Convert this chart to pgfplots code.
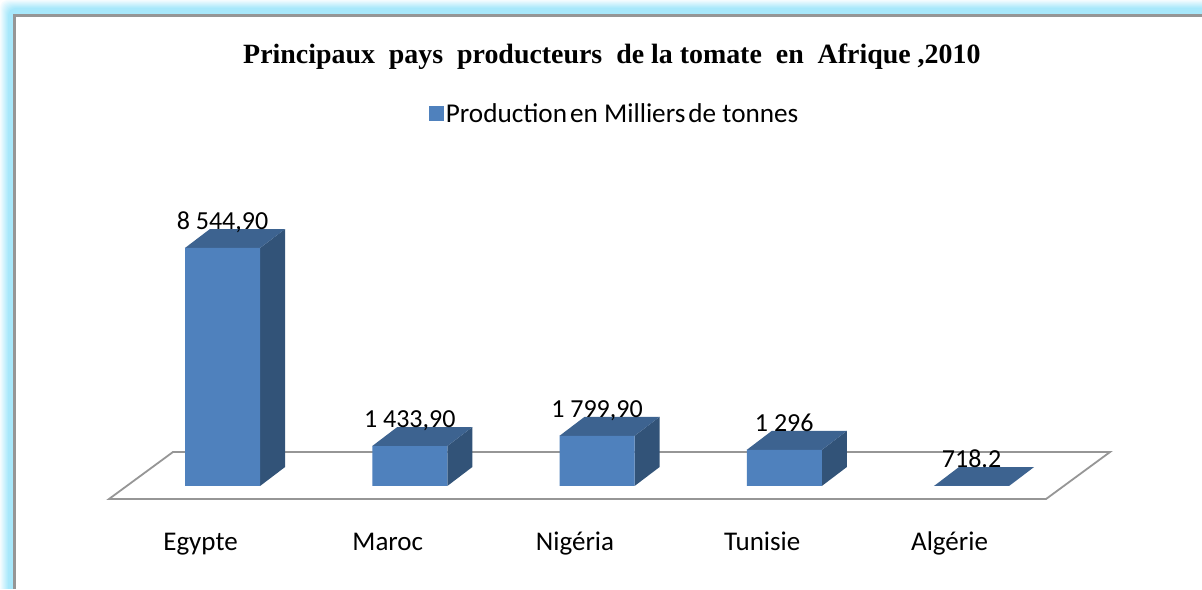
\documentclass[border=0pt]{standalone}
\usepackage{pgfplots}
\pgfplotsset{compat=1.18}
\usepackage{fontspec}
\setmainfont{Carlito}
\newfontfamily\titlefont{Liberation Serif}[BoldFont={Liberation Serif Bold}]
\definecolor{front}{HTML}{4F81BD}
\definecolor{topf}{HTML}{3D6390}
\definecolor{sidef}{HTML}{325378}
\definecolor{glow}{HTML}{A8E8FB}
\definecolor{floorline}{HTML}{969696}
\newcommand{\lbl}{\fontsize{26}{30}\selectfont}
\newcommand{\tlbl}{\fontsize{27}{31}\selectfont}
\newcommand{\llbl}{\fontsize{27.2}{31}\selectfont}
\begin{document}
\begin{tikzpicture}[x=1pt,y=1pt]
\path[use as bounding box] (0,0) rectangle (1202,589);
\begin{scope}
\clip (0,0) rectangle (1202,589);
\fill[white] (0,0) rectangle (1202,589);
\foreach \i in {0,...,14}{
  \pgfmathsetmacro{\m}{min(100,100*(\i+1)/9)}
  \fill[glow!\m!white,rounded corners=8pt] (\i,-30) rectangle (1240,589-\i);
}
\fill[white,draw=floorline,line width=2.4pt] (14.5,-30) rectangle (1240,589-15.5);
\end{scope}
\begin{axis}[
  at={(0,0)},anchor=south west,
  scale only axis,width=1202pt,height=589pt,
  xmin=-1.18825,xmax=5.23097,ymin=-3698,ymax=17449,
  axis line style={draw=none},
  clip=false,
  ytick=\empty,
  xtick={0,1,2,3,4},
  xticklabels={Egypte,Maroc,Nigéria,Tunisie,Algérie},
  major tick length=0pt,
  x tick label style={font=\tlbl,anchor=base,yshift=38pt,xshift=-22pt},
  title={\bfseries\titlefont\fontsize{27.9}{32}\selectfont Principaux\ \ pays\ \ producteurs\ \ de\ la\ tomate\ \ en\ \ Afrique\ ,2010},
  title style={at={(0.509,0.8922)},anchor=base,inner sep=0pt,yshift=-6pt},
  legend style={at={(0.5113,0.8065)},anchor=center,draw=none,fill=none,font=\llbl,inner sep=0pt,
    legend cell align=left,/tikz/every even column/.append style={column sep=6pt}},
  legend image code/.code={\fill[front] (0pt,-7pt) rectangle (15pt,8pt);},
]
% floor
\addplot[forget plot,fill=white,draw=floorline,line width=1.8pt] coordinates {
  (-0.6061,-467) (4.3979,-467) (4.7397,1221) (-0.2644,1221)} -- cycle;
% side faces
\addplot[forget plot,fill=sidef,draw=none] coordinates {(0.2005,0) (0.2005,8544.9) (0.3342,9226.9) (0.3342,682)} -- cycle;
\addplot[forget plot,fill=sidef,draw=none] coordinates {(1.2005,0) (1.2005,1433.9) (1.3342,2115.9) (1.3342,682)} -- cycle;
\addplot[forget plot,fill=sidef,draw=none] coordinates {(2.2005,0) (2.2005,1799.9) (2.3342,2481.9) (2.3342,682)} -- cycle;
\addplot[forget plot,fill=sidef,draw=none] coordinates {(3.2005,0) (3.2005,1296) (3.3342,1978) (3.3342,682)} -- cycle;
% top faces
\addplot[forget plot,fill=topf,draw=none] coordinates {(-0.2005,8544.9) (0.2005,8544.9) (0.3342,9226.9) (-0.0668,9226.9)} -- cycle;
\addplot[forget plot,fill=topf,draw=none] coordinates {(0.7995,1433.9) (1.2005,1433.9) (1.3342,2115.9) (0.9332,2115.9)} -- cycle;
\addplot[forget plot,fill=topf,draw=none] coordinates {(1.7995,1799.9) (2.2005,1799.9) (2.3342,2481.9) (1.9332,2481.9)} -- cycle;
\addplot[forget plot,fill=topf,draw=none] coordinates {(2.7995,1296) (3.2005,1296) (3.3342,1978) (2.9332,1978)} -- cycle;
\addplot[forget plot,fill=topf,draw=none] coordinates {(3.7995,0) (4.2005,0) (4.3342,682) (3.9332,682)} -- cycle;
% front faces and labels
\addplot[ybar,bar width=75pt,fill=front,draw=none,
  point meta=explicit symbolic,
  nodes near coords,
  every node near coord/.append style={font=\lbl,anchor=base,yshift=18.5pt,inner sep=0pt,text=black},
] coordinates {
  (0,8544.9) [8 544,90]
  (1,1433.9) [1 433,90]
  (2,1799.9) [1 799,90]
  (3,1296) [1 296]
  (4,0) [718.2]
};
\addlegendentry{Production\hspace{3pt}en Milliers\hspace{3pt}de tonnes}
\end{axis}
\end{tikzpicture}
\end{document}
